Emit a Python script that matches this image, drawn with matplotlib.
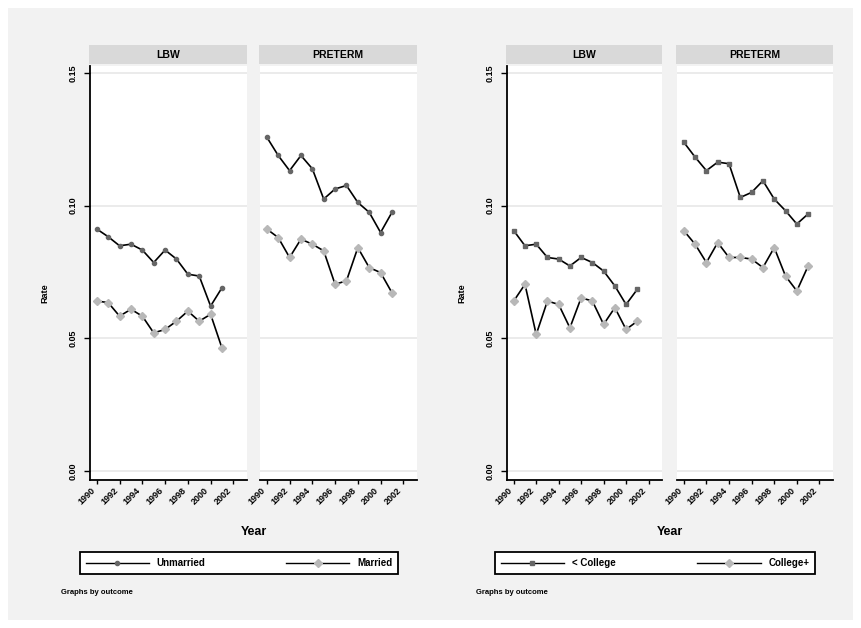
import matplotlib
matplotlib.use("Agg")
import matplotlib.pyplot as plt
from matplotlib.lines import Line2D
from matplotlib.patches import Rectangle

plt.rcParams['font.family'] = ['Liberation Sans', 'DejaVu Sans']

years = list(range(1990, 2002))
tick_years = list(range(1990, 2003, 2))
yticks = [0.00, 0.05, 0.10, 0.15]
ytick_labels = ["0.00", "0.05", "0.10", "0.15"]

# marital status
lbw_unmarried = [0.0912, 0.0883, 0.0849, 0.0855, 0.0833, 0.0786, 0.0833, 0.0799, 0.0742, 0.0735, 0.0622, 0.0691]
lbw_married = [0.0641, 0.0635, 0.0584, 0.0610, 0.0584, 0.0521, 0.0534, 0.0565, 0.0603, 0.0565, 0.0591, 0.0464]
pre_unmarried = [0.1258, 0.1189, 0.1132, 0.1189, 0.1139, 0.1025, 0.1063, 0.1076, 0.1012, 0.0975, 0.0899, 0.0975]
pre_married = [0.0912, 0.0880, 0.0805, 0.0874, 0.0855, 0.0830, 0.0704, 0.0717, 0.0842, 0.0767, 0.0748, 0.0672]

# education
lbw_lesscol = [0.0906, 0.0849, 0.0855, 0.0805, 0.0799, 0.0773, 0.0805, 0.0786, 0.0754, 0.0698, 0.0628, 0.0685]
lbw_college = [0.0641, 0.0704, 0.0515, 0.0641, 0.0628, 0.0540, 0.0653, 0.0641, 0.0553, 0.0616, 0.0534, 0.0565]
pre_lesscol = [0.1239, 0.1183, 0.1132, 0.1164, 0.1158, 0.1031, 0.1050, 0.1094, 0.1025, 0.0981, 0.0931, 0.0969]
pre_college = [0.0906, 0.0855, 0.0786, 0.0861, 0.0805, 0.0805, 0.0799, 0.0767, 0.0842, 0.0735, 0.0679, 0.0773]

W, H = 861, 628
DARK = '#666666'
LIGHT = '#b8b8b8'


def rect(x0, y0, x1, y1):
    return [x0 / W, 1 - y1 / H, (x1 - x0) / W, (y1 - y0) / H]


def facet(fig, x0, x1, title, dark, light, first, dark_marker):
    ax = fig.add_axes(rect(x0, 66, x1, 480))
    ax.set_facecolor('white')
    for y in yticks:
        ax.axhline(y, color='#e8e8e8', lw=1.2, zorder=0)
    ax.plot(years, light, color='black', lw=1.2, marker='D', ms=4,
            mfc=LIGHT, mec=LIGHT, zorder=3)
    ax.plot(years, dark, color='black', lw=1.2, marker=dark_marker, ms=3,
            mfc=DARK, mec=DARK, zorder=3)
    ax.set_xlim(1989.4, 2003.2)
    ax.set_ylim(-0.0033, 0.1526)
    ax.set_xticks(tick_years)
    ax.set_xticklabels([str(t) for t in tick_years], rotation=45, ha='right',
                       fontsize=6.5, fontweight='bold')
    ax.tick_params(axis='x', length=3, width=1, pad=1)
    for s in ['top', 'right']:
        ax.spines[s].set_visible(False)
    ax.spines['bottom'].set_linewidth(1.3)
    if first:
        ax.set_yticks(yticks)
        ax.set_yticklabels(ytick_labels, rotation=90, va='center',
                           fontsize=6.5, fontweight='bold')
        ax.tick_params(axis='y', length=4, width=1, pad=5)
        ax.spines['left'].set_linewidth(1.3)
    else:
        ax.set_yticks([])
        ax.spines['left'].set_visible(False)
    # facet strip
    sax = fig.add_axes(rect(x0 - 1, 45, x1, 64))
    sax.set_facecolor('#d9d9d9')
    sax.set_xticks([])
    sax.set_yticks([])
    for s in sax.spines.values():
        s.set_visible(False)
    sax.text(0.5, 0.5, title, ha='center', va='center', fontsize=7.5,
             fontweight='bold', transform=sax.transAxes)
    return ax


fig = plt.figure(figsize=(W / 100, H / 100), dpi=100)
fig.patch.set_facecolor('white')
fig.patches.append(Rectangle((8 / W, 1 - 620 / H), 845 / W, 612 / H,
                             transform=fig.transFigure, facecolor='#f2f2f2',
                             edgecolor='none', zorder=-5))

groups = [
    (90, 247, 260, 417, lbw_unmarried, lbw_married, pre_unmarried, pre_married,
     'Unmarried', 'Married', 'o', 75, 403),
    (507, 662, 677, 833, lbw_lesscol, lbw_college, pre_lesscol, pre_college,
     '< College', 'College+', 's', 490, 820),
]

for (a0, a1, b0, b1, ld, ll, pd_, pl, n1, n2, mk, lx0, lx1) in groups:
    facet(fig, a0, a1, 'LBW', ld, ll, True, mk)
    facet(fig, b0, b1, 'PRETERM', pd_, pl, False, mk)
    fig.text((a0 + b1) / 2 / W, 1 - 532 / H, 'Year', ha='center', va='center',
             fontsize=9, fontweight='bold')
    fig.text((a0 - 45) / W, 1 - 293 / H, 'Rate', ha='center', va='center',
             rotation=90, fontsize=6.5, fontweight='bold')
    handles = [
        Line2D([], [], color='black', lw=1, marker=mk, ms=3, mfc=DARK, mec=DARK),
        Line2D([], [], color='black', lw=1, marker='D', ms=4, mfc=LIGHT, mec=LIGHT),
    ]
    leg = fig.legend(handles, [n1, n2], loc='lower left', ncol=2, mode='expand',
                     bbox_to_anchor=(lx0 / W, 1 - 579 / H, (lx1 - lx0) / W, 30 / H),
                     fancybox=False, framealpha=1, edgecolor='black',
                     handlelength=6.5, borderpad=0.6,
                     prop={'size': 7, 'weight': 'bold'})
    leg.get_frame().set_linewidth(1.3)
    fig.text((lx0 - 14) / W, 1 - 593 / H, 'Graphs by outcome', ha='left',
             va='center', fontsize=5.5, fontweight='bold')

fig.savefig('out.png', dpi=100, facecolor=fig.get_facecolor())
